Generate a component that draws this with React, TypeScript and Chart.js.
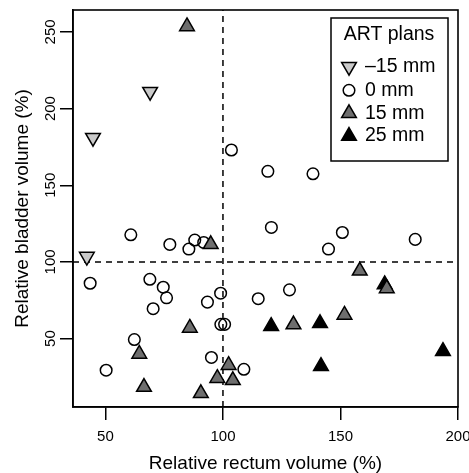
import { useEffect, useRef } from "react";
import { Chart, registerables } from "chart.js";
import { drawPoint } from "chart.js/helpers";

Chart.register(...registerables);

// ---- data ----
const xTicks = [50, 100, 150, 200];
const yTicks = [50, 100, 150, 200, 250];
const xRange = [36.2, 200];
const yRange = [5.4, 264.3];
const refValue = 100;

const xTitle = "Relative rectum volume (%)";
const yTitle = "Relative bladder volume (%)";
const legendTitle = "ART plans";
const seriesLabels = ["\u201315 mm", "0 mm", "15 mm", "25 mm"];

// -15 mm plans
const minus15Rectum = [44.7, 69.0, 42.1];
const minus15Bladder = [181.0, 211.0, 103.5];

// 0 mm plans
const zeroRectum = [
  103.6, 119.1, 138.3, 120.6, 150.8, 144.9, 181.8, 60.8, 77.4, 85.5, 88.0, 91.8,
  43.5, 68.9, 74.6, 76.0, 70.3, 93.4, 99.0, 99.1, 100.7, 62.3, 50.3, 95.1, 115.0,
  128.3, 108.9,
];
const zeroBladder = [
  173.0, 159.1, 157.5, 122.5, 119.2, 108.4, 114.7, 117.7, 111.4, 108.4, 114.3, 112.7,
  86.1, 88.7, 83.5, 76.6, 69.5, 73.8, 79.6, 59.3, 59.3, 49.4, 29.4, 37.7, 76.0,
  81.8, 30.0,
];

// 15 mm plans
const mm15Rectum = [84.7, 94.8, 85.9, 64.4, 66.4, 90.6, 97.6, 102.4, 104.2, 130.0, 151.7, 158.2, 169.7];
const mm15Bladder = [253.6, 111.5, 57.0, 40.0, 18.4, 14.3, 24.2, 32.7, 22.8, 59.2, 65.4, 94.2, 82.7];

// 25 mm plans
const mm25Rectum = [120.5, 141.3, 141.7, 193.6, 168.8];
const mm25Bladder = [58.1, 60.0, 32.0, 41.8, 85.3];

const FONT = "'Liberation Sans', Arial, Helvetica, sans-serif";

const pts = (xs: number[], ys: number[]) => xs.map((x, i) => ({ x, y: ys[i] }));

const seriesStyles = [
  { pointStyle: "triangle", rotation: 180, fill: "#cacaca", radius: 8.5 },
  { pointStyle: "circle", rotation: 0, fill: "rgba(0,0,0,0)", radius: 5.8 },
  { pointStyle: "triangle", rotation: 0, fill: "#6e6e6e", radius: 8.5 },
  { pointStyle: "triangle", rotation: 0, fill: "#000000", radius: 8.5 },
];

const framePlugin = {
  id: "frameAndLegend",
  afterDraw(chart: any) {
    const { ctx, chartArea } = chart;
    ctx.save();
    ctx.strokeStyle = "#000";
    ctx.lineWidth = 1.6;
    ctx.strokeRect(chartArea.left, chartArea.top, chartArea.right - chartArea.left, chartArea.bottom - chartArea.top);

    // legend box
    const lx = 331, ly = 18, lw = 117, lh = 143;
    ctx.fillStyle = "#fff";
    ctx.fillRect(lx, ly, lw, lh);
    ctx.lineWidth = 1.5;
    ctx.strokeRect(lx, ly, lw, lh);
    ctx.fillStyle = "#000";
    ctx.font = `19.5px ${FONT}`;
    ctx.textBaseline = "middle";
    ctx.textAlign = "center";
    ctx.fillText(legendTitle, 389, 35);
    ctx.textAlign = "left";
    const rowY = [66.7, 90.3, 113.3, 136];
    seriesLabels.forEach((lab, i) => {
      const st = seriesStyles[i];
      ctx.fillStyle = st.fill;
      ctx.strokeStyle = "#000";
      ctx.lineWidth = 1.5;
      drawPoint(ctx, { pointStyle: st.pointStyle, rotation: st.rotation, radius: st.radius, borderWidth: 1.5 } as any, 349, rowY[i]);
      ctx.fillStyle = "#000";
      ctx.fillText(lab, 365, rowY[i]);
    });
    ctx.restore();
  },
};

export default function App() {
  const ref = useRef<HTMLCanvasElement>(null);
  useEffect(() => {
    if (!ref.current) return;
    const series = [
      pts(minus15Rectum, minus15Bladder),
      pts(zeroRectum, zeroBladder),
      pts(mm15Rectum, mm15Bladder),
      pts(mm25Rectum, mm25Bladder),
    ];
    const drawOrder = [3, 2, 0, 1];
    const datasets: any[] = series.map((data, i) => ({
      label: seriesLabels[i],
      data,
      pointStyle: seriesStyles[i].pointStyle,
      rotation: seriesStyles[i].rotation,
      pointRadius: seriesStyles[i].radius,
      pointBackgroundColor: seriesStyles[i].fill,
      pointBorderColor: "#000",
      pointBorderWidth: 1.5,
      order: drawOrder[i],
    }));
    datasets.push({
      label: "ref-x",
      data: [{ x: refValue, y: yRange[0] }, { x: refValue, y: yRange[1] }],
      showLine: true,
      borderColor: "#000",
      borderWidth: 1.5,
      borderDash: [6, 5],
      pointRadius: 0,
      order: 10,
    });
    datasets.push({
      label: "ref-y",
      data: [{ x: xRange[0], y: refValue }, { x: xRange[1], y: refValue }],
      showLine: true,
      borderColor: "#000",
      borderWidth: 1.5,
      borderDash: [6, 5],
      pointRadius: 0,
      order: 10,
    });

    const chart = new Chart(ref.current, {
      type: "scatter",
      data: { datasets },
      plugins: [framePlugin],
      options: {
        responsive: false,
        animation: false,
        layout: { padding: { top: 8, right: 11, left: 0, bottom: 0 } },
        plugins: { legend: { display: false }, tooltip: { enabled: false } },
        scales: {
          x: {
            type: "linear",
            position: "bottom",
            min: xRange[0],
            max: xRange[1],
            afterBuildTicks: (s: any) => { s.ticks = xTicks.map((v) => ({ value: v })); },
            afterFit: (s: any) => { s.height = 66; s.paddingLeft = 0; s.paddingRight = 0; },
            grid: { display: true, drawOnChartArea: false, drawTicks: true, tickLength: 13, color: "#000", lineWidth: 1.5 },
            border: { display: true, color: "#000", width: 1.6 },
            ticks: { color: "#000", font: { family: FONT, size: 15 }, padding: 8, autoSkip: false, maxRotation: 0, minRotation: 0 },
            title: { display: true, text: xTitle, color: "#000", font: { family: FONT, size: 19, lineHeight: 1 }, padding: { top: 0, bottom: 0 } },
          },
          y: {
            type: "linear",
            position: "left",
            min: yRange[0],
            max: yRange[1],
            afterBuildTicks: (s: any) => { s.ticks = yTicks.map((v) => ({ value: v })); },
            afterFit: (s: any) => { s.width = 73; s.paddingTop = 0; s.paddingBottom = 0; },
            grid: { display: true, drawOnChartArea: false, drawTicks: true, tickLength: 13, color: "#000", lineWidth: 1.5 },
            border: { display: true, color: "#000", width: 1.6 },
            ticks: { color: "#000", font: { family: FONT, size: 15 }, padding: -3.5, autoSkip: false, minRotation: 90, maxRotation: 90, crossAlign: "center" },
            title: { display: true, text: yTitle, color: "#000", font: { family: FONT, size: 19, lineHeight: 1 }, padding: { top: 13, bottom: 0 } },
          },
        },
      } as any,
    });
    return () => chart.destroy();
  }, []);
  return (
    <div style={{ position: "absolute", left: 0, top: 0, width: 469, height: 473 }}>
      <canvas ref={ref} width={469} height={473} />
    </div>
  );
}
